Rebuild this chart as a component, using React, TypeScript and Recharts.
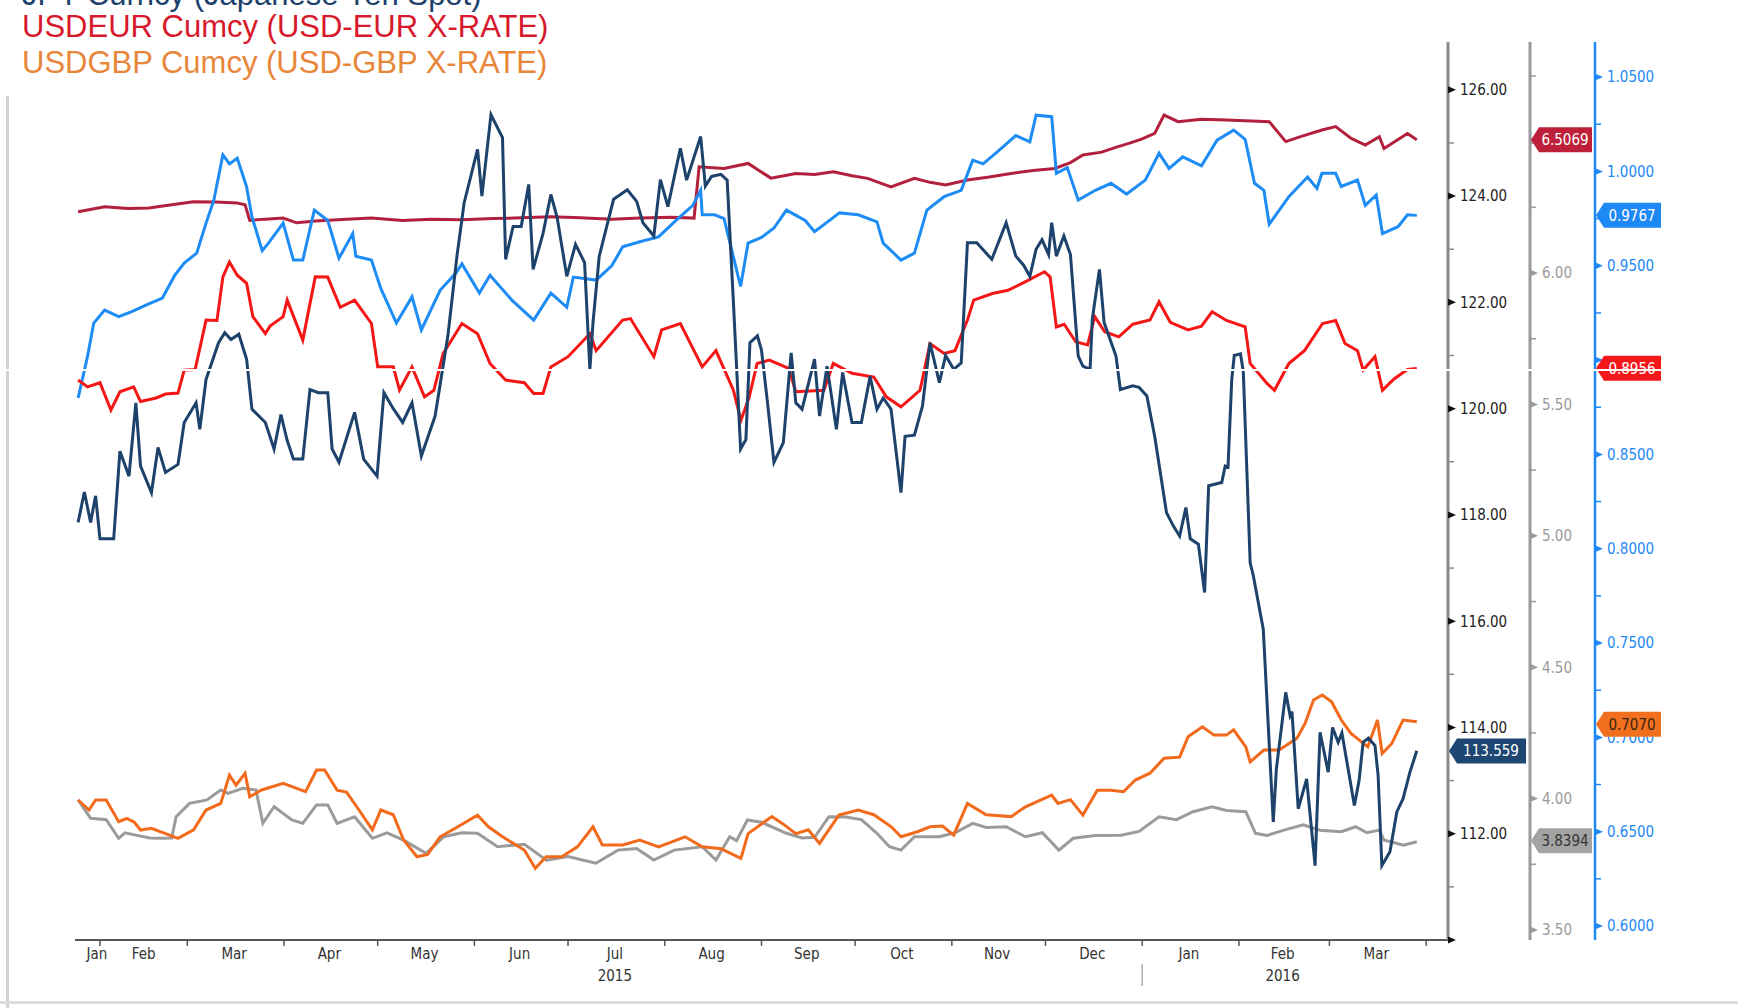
import React from 'react';
import { LineChart, Line, XAxis, YAxis, ReferenceDot } from 'recharts';

// x values are day numbers counted from 1 Jan 2015 (= 0)

// JPY Curncy, its own axis next to the plot
const jpyDays = [24, 26, 28, 29.6, 31, 35.4, 37.4, 40.3, 42.5, 44, 47.5, 49.6, 52, 56, 58, 61.8, 63, 65, 69, 71, 73, 75.5, 78, 79.7, 84, 86.8, 89, 91, 93, 96, 98.3, 101, 104, 105.4, 107.6, 112.6, 115.5, 119.8, 122, 125, 128, 131, 134, 138.4, 142.5, 145.4, 147.7, 152, 153.4, 156.3, 160, 161, 163.4, 166, 168.4, 169.8, 173, 175.5, 177.5, 180.6, 183.4, 186.3, 188, 189, 191, 195.6, 200, 203, 205, 208.5, 210.6, 213, 217, 219, 223.5, 225, 227, 230, 232, 234, 236.3, 238, 239.3, 241.7, 243, 244.8, 247, 250, 252.5, 254, 256, 260, 261.6, 264, 267, 269, 272, 275, 277.8, 280, 282, 284.5, 287.7, 289, 292, 294.6, 297, 300, 302, 304.6, 307, 309, 312, 316.8, 321.4, 324.5, 327, 329, 331, 332.9, 335, 336, 337.5, 339.9, 342, 344.5, 346, 348.3, 349, 351.3, 352.8, 356.6, 358, 362, 364, 366.5, 369, 372.8, 375, 377, 379, 380.4, 383, 385, 386.3, 390.5, 391.6, 392.5, 393.7, 394.5, 396.5, 397.4, 399.6, 400.6, 403.8, 407, 408, 411, 412.4, 413, 415, 417.7, 420.4, 422, 424.6, 426, 427.8, 429, 433, 434.5, 435.8, 437.5, 439.6, 440.6, 441.8, 444.4, 446.6, 448.6, 450.8, 453];
const jpyValues = [117.86, 118.43, 117.86, 118.36, 117.55, 117.55, 119.2, 118.73, 120.11, 118.92, 118.42, 119.27, 118.8, 118.95, 119.74, 120.11, 119.61, 120.55, 121.24, 121.43, 121.3, 121.4, 120.93, 119.99, 119.74, 119.24, 119.89, 119.4, 119.05, 119.05, 120.36, 120.3, 120.3, 119.24, 118.99, 119.93, 119.05, 118.73, 120.3, 120.0, 119.74, 120.11, 119.11, 119.86, 121.37, 122.87, 123.87, 124.88, 124.0, 125.53, 125.1, 122.81, 123.43, 123.43, 124.22, 122.62, 123.3, 124.03, 123.6, 122.49, 123.09, 122.75, 120.74, 121.62, 122.87, 123.94, 124.12, 123.9, 123.5, 123.25, 124.31, 123.8, 124.9, 124.3, 125.12, 124.19, 124.37, 124.41, 124.3, 122.0, 119.24, 119.42, 121.24, 121.37, 121.1, 120.18, 118.99, 119.36, 121.05, 120.11, 119.99, 120.93, 119.86, 120.8, 119.61, 120.68, 119.74, 119.74, 120.61, 119.99, 120.2, 119.99, 118.42, 119.48, 119.5, 120.05, 121.24, 120.49, 121.0, 120.74, 120.86, 123.12, 123.12, 122.81, 123.5, 122.87, 122.7, 122.49, 123.0, 123.18, 122.9, 123.5, 122.87, 123.25, 122.9, 120.99, 120.8, 120.74, 121.68, 122.62, 121.62, 120.99, 120.36, 120.43, 120.4, 120.24, 119.48, 118.04, 117.79, 117.6, 118.14, 117.55, 117.45, 116.54, 118.55, 118.61, 118.92, 118.9, 120.55, 121.0, 121.03, 120.7, 117.1, 116.86, 115.85, 112.22, 113.22, 114.66, 114.22, 114.3, 112.47, 113.03, 111.4, 113.91, 113.16, 114.0, 113.72, 113.9, 112.53, 113.0, 113.72, 113.8, 113.66, 113.1, 111.4, 111.66, 112.41, 112.66, 113.16, 113.56];

// USDCNY (dark red), grey axis
const cnyDays = [24, 32.5, 40, 46.7, 54, 61, 68, 75, 77.5, 79, 84, 89.7, 94, 100, 110, 118, 128, 137, 147, 157, 166, 175.5, 185, 195, 204, 214, 221.4, 223, 231, 238.7, 246, 254, 260, 266, 272, 277, 284.5, 292, 297, 302, 309, 316, 323, 330, 337, 342, 346, 352, 357, 361, 365, 369, 372, 376.5, 384, 392, 400, 405.7, 411, 416, 422.6, 427, 432, 436.5, 441, 442.5, 446, 450, 453];
const cnyValues = [6.233, 6.252, 6.245, 6.247, 6.26, 6.271, 6.27, 6.266, 6.26, 6.2, 6.205, 6.209, 6.191, 6.198, 6.205, 6.209, 6.2, 6.205, 6.203, 6.207, 6.21, 6.214, 6.21, 6.205, 6.209, 6.212, 6.209, 6.404, 6.398, 6.417, 6.361, 6.379, 6.375, 6.385, 6.37, 6.36, 6.328, 6.36, 6.345, 6.335, 6.354, 6.365, 6.379, 6.39, 6.398, 6.42, 6.449, 6.46, 6.48, 6.494, 6.51, 6.531, 6.601, 6.576, 6.585, 6.582, 6.578, 6.576, 6.5, 6.52, 6.544, 6.557, 6.512, 6.487, 6.519, 6.474, 6.5, 6.531, 6.507];

// USDCHF (light blue), blue axis
const chfDays = [24, 27, 29, 32.5, 37, 41, 47, 51, 55, 58, 62, 65, 67.5, 70.4, 72.5, 75, 78, 79.7, 83, 85, 89.7, 93, 96, 99.7, 104, 107.6, 112, 113, 118, 121, 126, 131, 134, 140, 145, 147, 152.6, 156, 163, 170, 175.5, 180.6, 182.7, 190, 195, 198.5, 204, 210, 215.6, 221, 223.5, 224, 228, 231, 236.3, 238.7, 243, 247, 251, 257, 260, 268, 274, 280, 282, 287.7, 292, 296, 301.5, 307, 310.7, 314, 318, 324.5, 329, 331, 336, 337.5, 341, 344.5, 350, 355, 360, 366, 370.4, 373.6, 378, 384, 389, 394.3, 398, 401, 404, 405.7, 412, 418, 421, 422.6, 427, 428.8, 434, 436.5, 440, 442, 447, 450, 453];
const chfValues = [0.8799, 0.9018, 0.9196, 0.9265, 0.923, 0.9256, 0.93, 0.9329, 0.945, 0.9514, 0.9567, 0.9726, 0.9848, 1.0088, 1.004, 1.007, 0.9918, 0.976, 0.958, 0.962, 0.9726, 0.953, 0.953, 0.9795, 0.974, 0.954, 0.967, 0.955, 0.953, 0.938, 0.9196, 0.9335, 0.916, 0.937, 0.946, 0.951, 0.9355, 0.945, 0.9318, 0.9212, 0.9355, 0.928, 0.944, 0.9424, 0.95, 0.96, 0.9627, 0.9653, 0.974, 0.982, 0.99, 0.977, 0.977, 0.975, 0.939, 0.962, 0.965, 0.97, 0.9795, 0.974, 0.968, 0.978, 0.977, 0.9733, 0.962, 0.953, 0.9567, 0.9795, 0.9866, 0.99, 1.006, 1.004, 1.0096, 1.019, 1.0157, 1.0298, 1.029, 0.999, 1.002, 0.9848, 0.99, 0.9937, 0.988, 0.9954, 1.0096, 1.0016, 1.0077, 1.003, 1.0166, 1.0219, 1.017, 0.9937, 0.99, 0.972, 0.9866, 0.997, 0.991, 0.999, 0.999, 0.992, 0.9954, 0.982, 0.9875, 0.967, 0.9707, 0.977, 0.9767];

// USDEUR (red), blue axis
const eurDays = [24, 27, 31, 34.5, 37.4, 41.8, 44, 49, 52, 56, 58, 61.5, 65, 68.5, 70.4, 72.5, 75, 78, 80, 84, 85.5, 89.7, 91, 96, 100, 104, 108, 112.6, 118, 120, 125, 127, 131, 135, 138, 141, 147, 152, 156, 161, 167, 170, 173, 175.5, 181, 188, 190, 198.5, 201, 208.5, 211, 217, 224, 228.4, 234, 236.4, 239, 241.6, 245.5, 251.7, 254, 263, 266, 272, 279, 283, 287.7, 293.8, 297, 301.5, 305, 309, 311, 317, 322, 327.5, 333.7, 335.5, 337.5, 340, 343.7, 347.5, 349.8, 353, 357.5, 362, 367.5, 370.4, 374, 379.7, 384, 387.4, 392, 398, 399.6, 405, 407.4, 412, 417, 422.8, 427, 430, 434, 435.8, 439.6, 442, 445.7, 450, 453];
const eurValues = [0.8894, 0.8858, 0.888, 0.8735, 0.8832, 0.8858, 0.878, 0.8799, 0.882, 0.8825, 0.8947, 0.895, 0.9212, 0.921, 0.9441, 0.952, 0.945, 0.9407, 0.923, 0.914, 0.918, 0.923, 0.9318, 0.9106, 0.9441, 0.944, 0.928, 0.9318, 0.9194, 0.8964, 0.8964, 0.8841, 0.8964, 0.8805, 0.884, 0.9035, 0.9194, 0.914, 0.8982, 0.8894, 0.888, 0.8823, 0.8823, 0.8964, 0.9018, 0.914, 0.905, 0.9212, 0.922, 0.9018, 0.916, 0.9194, 0.8964, 0.905, 0.884, 0.868, 0.88, 0.8982, 0.9, 0.8956, 0.8832, 0.884, 0.8982, 0.893, 0.891, 0.8805, 0.8752, 0.884, 0.9088, 0.9035, 0.905, 0.9212, 0.9318, 0.9353, 0.937, 0.9415, 0.9468, 0.944, 0.9176, 0.919, 0.9097, 0.908, 0.923, 0.915, 0.9123, 0.919, 0.9212, 0.9309, 0.92, 0.916, 0.918, 0.9256, 0.921, 0.9176, 0.8982, 0.8876, 0.884, 0.8982, 0.905, 0.9194, 0.921, 0.9088, 0.905, 0.8947, 0.9018, 0.884, 0.89, 0.895, 0.8956];

// USDGBP (orange), blue axis
const gbpDays = [24, 27.5, 29.6, 33, 37, 39.6, 42, 44, 47.5, 52, 56, 61, 65, 69.7, 72.5, 74.6, 77.5, 79, 82.6, 89.7, 96.9, 100.4, 103, 107, 110, 114, 118.3, 121, 125, 128.3, 132.6, 136, 140, 145, 152, 155.5, 160, 167, 170.5, 174, 179, 184, 189, 192, 198.5, 204, 210, 218.5, 224, 230, 236.4, 238.7, 246.3, 250, 254, 258, 261.6, 267.8, 274, 279, 284.6, 287.7, 293, 297, 301, 304.6, 309, 315, 323, 327.6, 336, 338, 342, 346, 350.6, 355, 359, 362.8, 367.5, 372, 377, 379.7, 384.3, 388, 392, 394.3, 398.2, 399.6, 404, 408.9, 414.6, 417.2, 419.9, 422.7, 425.7, 428.8, 431.9, 437.3, 440.4, 441.9, 445, 448.6, 453];
const gbpValues = [0.6668, 0.6615, 0.6668, 0.6668, 0.6553, 0.657, 0.655, 0.6509, 0.6518, 0.649, 0.6465, 0.651, 0.6615, 0.665, 0.68, 0.6747, 0.681, 0.6685, 0.672, 0.6756, 0.6712, 0.6827, 0.6827, 0.672, 0.671, 0.6615, 0.651, 0.6615, 0.659, 0.6456, 0.6367, 0.638, 0.6473, 0.652, 0.6588, 0.6526, 0.6473, 0.6403, 0.6306, 0.6367, 0.6367, 0.642, 0.6526, 0.643, 0.643, 0.6456, 0.642, 0.6473, 0.642, 0.641, 0.6359, 0.649, 0.658, 0.654, 0.649, 0.651, 0.6438, 0.6588, 0.6615, 0.659, 0.6526, 0.6473, 0.65, 0.6526, 0.653, 0.6482, 0.665, 0.659, 0.658, 0.6632, 0.6694, 0.665, 0.667, 0.6588, 0.672, 0.672, 0.6712, 0.6774, 0.681, 0.6889, 0.6895, 0.7003, 0.7056, 0.7012, 0.7012, 0.704, 0.695, 0.687, 0.6933, 0.6933, 0.6995, 0.7074, 0.7198, 0.7225, 0.7189, 0.7092, 0.7021, 0.695, 0.7092, 0.6915, 0.6968, 0.7092, 0.7083];

// grey series, grey axis
const greyDays = [24, 28, 33, 37, 39, 42.5, 47, 51, 54, 55.4, 59.7, 65.3, 69.7, 72, 76.8, 81, 83.2, 86.8, 92.5, 96, 100.4, 104, 107, 112.6, 118.3, 123, 128.3, 135.5, 141.2, 147, 152, 158.4, 167, 174.1, 181, 189.9, 197, 203, 208.5, 215, 224, 228.4, 232.8, 235, 238.5, 243, 251, 256, 260, 264.6, 270, 275, 280, 284, 287.7, 292, 300, 305, 310.7, 315, 321.4, 327.6, 333, 338.3, 342.9, 350, 358.2, 364, 370.4, 376, 381.3, 387.4, 392, 398.2, 401.3, 405, 410.4, 416.6, 422, 428.8, 433.4, 437, 441, 442.5, 445, 448.7, 453];
const greyValues = [3.995, 3.925, 3.92, 3.849, 3.87, 3.861, 3.85, 3.849, 3.85, 3.931, 3.982, 3.995, 4.033, 4.02, 4.039, 4.033, 3.906, 3.969, 3.919, 3.906, 3.976, 3.976, 3.906, 3.931, 3.849, 3.87, 3.842, 3.792, 3.855, 3.87, 3.868, 3.817, 3.826, 3.766, 3.78, 3.754, 3.804, 3.81, 3.766, 3.804, 3.817, 3.766, 3.855, 3.84, 3.919, 3.91, 3.868, 3.85, 3.853, 3.931, 3.93, 3.92, 3.868, 3.817, 3.804, 3.855, 3.855, 3.87, 3.906, 3.89, 3.893, 3.855, 3.87, 3.804, 3.849, 3.86, 3.861, 3.875, 3.931, 3.92, 3.95, 3.969, 3.955, 3.95, 3.868, 3.86, 3.88, 3.9, 3.88, 3.874, 3.893, 3.87, 3.88, 3.842, 3.835, 3.823, 3.836];

// last-value tags on the right axes
const tagAxes = ['y1jpy', 'y2grey', 'y3blue', 'y3blue', 'y3blue', 'y2grey'];
const tagValues = [113.559, 6.5069, 0.9767, 0.8956, 0.707, 3.8394];
const tagTexts = ['113.559', '6.5069', '0.9767', '0.8956', '0.7070', '3.8394'];

// axes
const xDomain = [23, 463];
const monthStarts = [31, 59, 90, 120, 151, 181, 212, 243, 273, 304, 334, 365, 396, 425, 456];
const monthLabelDays = [30, 45, 74, 104.5, 135, 165.5, 196, 227, 257.5, 288, 318.5, 349, 380, 410, 440];
const monthLabels = ['Jan', 'Feb', 'Mar', 'Apr', 'May', 'Jun', 'Jul', 'Aug', 'Sep', 'Oct', 'Nov', 'Dec', 'Jan', 'Feb', 'Mar'];
const yearLabels = ['', '', '', '', '', '', '2015', '', '', '', '', '', '', '2016', ''];
const jpyTicks = [110, 111, 112, 113, 114, 115, 116, 117, 118, 119, 120, 121, 122, 123, 124, 125, 126];
const greyTicks = [3.5, 3.75, 4, 4.25, 4.5, 4.75, 5, 5.25, 5.5, 5.75, 6, 6.25, 6.5, 6.75];
const blueTicks = [0.6, 0.625, 0.65, 0.675, 0.7, 0.725, 0.75, 0.775, 0.8, 0.825, 0.85, 0.875, 0.9, 0.925, 0.95, 0.975, 1.0, 1.025, 1.05];

const pts = (days: number[], vals: number[]) => days.map((d, i) => ({ d, v: vals[i] }));

const AXIS_FONT = "'DejaVu Sans Condensed', 'DejaVu Sans', sans-serif";

const axisLook: Record<string, { line: string; marker: string; text: string; step: number; digits: number }> = {
  y1jpy: { line: '#8a8a8a', marker: '#111', text: '#222', step: 2, digits: 2 },
  y2grey: { line: '#9a9a9a', marker: '#9a9a9a', text: '#9a9a9a', step: 0.5, digits: 2 },
  y3blue: { line: '#1e88f5', marker: '#1e88f5', text: '#1e88f5', step: 0.05, digits: 4 },
};

const tagLook: Record<string, { fill: string; text: string; w: number }> = {
  '113.559': { fill: '#1e4773', text: '#fff', w: 78 },
  '6.5069': { fill: '#bd2038', text: '#fff', w: 62 },
  '0.9767': { fill: '#1e88f5', text: '#fff', w: 66 },
  '0.8956': { fill: '#f51818', text: '#fff', w: 66 },
  '0.7070': { fill: '#f07020', text: '#3a2410', w: 66 },
  '3.8394': { fill: '#a3a3a3', text: '#333', w: 62 },
};
// distance of each right axis from the plot edge
const axisShift: Record<string, number> = { y1jpy: 0, y2grey: 82, y3blue: 147 };

function renderYTick(p: any, axis: string) {
  const { x, y, payload } = p;
  const v = payload.value as number;
  const look = axisLook[axis];
  const r = v / look.step;
  const major = Math.abs(r - Math.round(r)) < 1e-6;
  if (!major) {
    return <line x1={x} x2={x + 6} y1={y} y2={y} stroke={look.line} strokeWidth={1.5} />;
  }
  // 110 has no label; 6.50 and 0.90 are hidden behind value tags
  const showText =
    !(axis === 'y1jpy' && v === 110) && !(axis === 'y2grey' && v === 6.5) && !(axis === 'y3blue' && Math.abs(v - 0.9) < 1e-9);
  return (
    <g>
      <path d={`M${x},${y - 3.5}L${x + 8},${y}L${x},${y + 3.5}Z`} fill={look.marker} />
      {showText && (
        <text x={x + 12} y={y} dy="0.36em" fill={look.text} fontSize={15} fontFamily={AXIS_FONT}>
          {v.toFixed(look.digits)}
        </text>
      )}
    </g>
  );
}

function renderXTick(p: any) {
  const { x, y, payload } = p;
  const v = payload.value as number;
  if (monthStarts.includes(v)) {
    return (
      <g>
        <line x1={x} x2={x} y1={y} y2={y + 6} stroke="#555" strokeWidth={1.5} />
        {v === 365 && <line x1={x} x2={x} y1={y + 24} y2={y + 46} stroke="#b0b0b0" strokeWidth={1.5} />}
      </g>
    );
  }
  const i = monthLabelDays.indexOf(v);
  if (i < 0) return <g />;
  return (
    <g fontFamily={AXIS_FONT} fontSize={15} fill="#333">
      <text x={x} y={y + 19} textAnchor="middle">{monthLabels[i]}</text>
      {yearLabels[i] && <text x={x} y={y + 41} textAnchor="middle">{yearLabels[i]}</text>}
    </g>
  );
}

function Tag({ cx, cy, text }: { cx: number; cy: number; text: string }) {
  const look = tagLook[text];
  const h = 12.5;
  return (
    <g>
      <path d={`M${cx + 1},${cy} L${cx + 9},${cy - h} L${cx + look.w},${cy - h} L${cx + look.w},${cy + h} L${cx + 9},${cy + h} Z`} fill={look.fill} />
      <text x={cx + 8 + (look.w - 8) / 2} y={cy} dy="0.36em" textAnchor="middle" fill={look.text} fontSize={15} fontFamily={AXIS_FONT}>
        {text}
      </text>
    </g>
  );
}

export default function App() {
  const legendFont = "'Liberation Sans', Arial, sans-serif";
  return (
    <div style={{ position: 'absolute', left: 0, top: 0, width: 1738, height: 1008, background: '#fff', overflow: 'hidden' }}>
      <LineChart width={1738} height={1008} margin={{ top: 42, right: 43, bottom: 18, left: 75 }}>
        <XAxis
          type="number"
          dataKey="d"
          domain={xDomain}
          allowDataOverflow
          ticks={[...monthStarts, ...monthLabelDays]}
          interval={0}
          height={50}
          tickSize={0}
          tickMargin={0}
          tickLine={false}
          axisLine={{ stroke: '#555', strokeWidth: 2 }}
          tick={renderXTick}
        />
        <YAxis
          yAxisId="y1jpy"
          orientation="right"
          type="number"
          domain={[110, 126.9]}
          allowDataOverflow
          ticks={jpyTicks}
          interval={0}
          width={82}
          tickSize={0}
          tickMargin={0}
          tickLine={false}
          axisLine={{ stroke: axisLook.y1jpy.line, strokeWidth: 3 }}
          tick={(p: any) => renderYTick(p, 'y1jpy')}
        />
        <YAxis
          yAxisId="y2grey"
          orientation="right"
          type="number"
          domain={[3.462, 6.879]}
          allowDataOverflow
          ticks={greyTicks}
          interval={0}
          width={65}
          tickSize={0}
          tickMargin={0}
          tickLine={false}
          axisLine={{ stroke: axisLook.y2grey.line, strokeWidth: 3 }}
          tick={(p: any) => renderYTick(p, 'y2grey')}
        />
        <YAxis
          yAxisId="y3blue"
          orientation="right"
          type="number"
          domain={[0.5926, 1.0686]}
          allowDataOverflow
          ticks={blueTicks}
          interval={0}
          width={100}
          tickSize={0}
          tickMargin={0}
          tickLine={false}
          axisLine={{ stroke: axisLook.y3blue.line, strokeWidth: 2.5 }}
          tick={(p: any) => renderYTick(p, 'y3blue')}
        />
        <Line data={pts(greyDays, greyValues)} dataKey="v" yAxisId="y2grey" stroke="#9b9b9b" strokeWidth={3} dot={false} type="linear" isAnimationActive={false} />
        <Line data={pts(gbpDays, gbpValues)} dataKey="v" yAxisId="y3blue" stroke="#f26a1b" strokeWidth={3} dot={false} type="linear" isAnimationActive={false} />
        <Line data={pts(cnyDays, cnyValues)} dataKey="v" yAxisId="y2grey" stroke="#b3203d" strokeWidth={3} dot={false} type="linear" isAnimationActive={false} />
        <Line data={pts(chfDays, chfValues)} dataKey="v" yAxisId="y3blue" stroke="#1e8cf5" strokeWidth={3} dot={false} type="linear" isAnimationActive={false} />
        <Line data={pts(eurDays, eurValues)} dataKey="v" yAxisId="y3blue" stroke="#f51616" strokeWidth={3} dot={false} type="linear" isAnimationActive={false} />
        <Line data={pts(jpyDays, jpyValues)} dataKey="v" yAxisId="y1jpy" stroke="#1d426b" strokeWidth={3} dot={false} type="linear" isAnimationActive={false} />
        {tagValues.map((val, i) => (
          <ReferenceDot
            key={tagTexts[i]}
            x={xDomain[1]}
            y={val}
            yAxisId={tagAxes[i]}
            r={0}
            ifOverflow="visible"
            {...({ zIndex: 2500 } as any)}
            shape={(p: any) => <Tag cx={p.cx + axisShift[tagAxes[i]]} cy={p.cy} text={tagTexts[i]} />}
          />
        ))}
      </LineChart>
      <svg width={1738} height={100} style={{ position: 'absolute', left: 0, top: 0, pointerEvents: 'none' }}>
        <g fontFamily={legendFont} fontSize={31}>
          <text x={22} y={5} fill="#1d3f6b">JPY Curncy (Japanese Yen Spot)</text>
          <text x={22} y={37} fill="#d8192c">USDEUR Cumcy (USD-EUR X-RATE)</text>
          <text x={22} y={73} fill="#e8873a">USDGBP Cumcy (USD-GBP X-RATE)</text>
        </g>
      </svg>
      <div style={{ position: 'absolute', left: 6, top: 96, width: 3, height: 912, background: '#d2d2d2' }} />
      <div style={{ position: 'absolute', left: 0, top: 1001, width: 1738, height: 3, background: '#dcdcdc' }} />
      <div style={{ position: 'absolute', left: 0, top: 369, width: 1738, height: 1.5, background: '#fff' }} />
    </div>
  );
}
